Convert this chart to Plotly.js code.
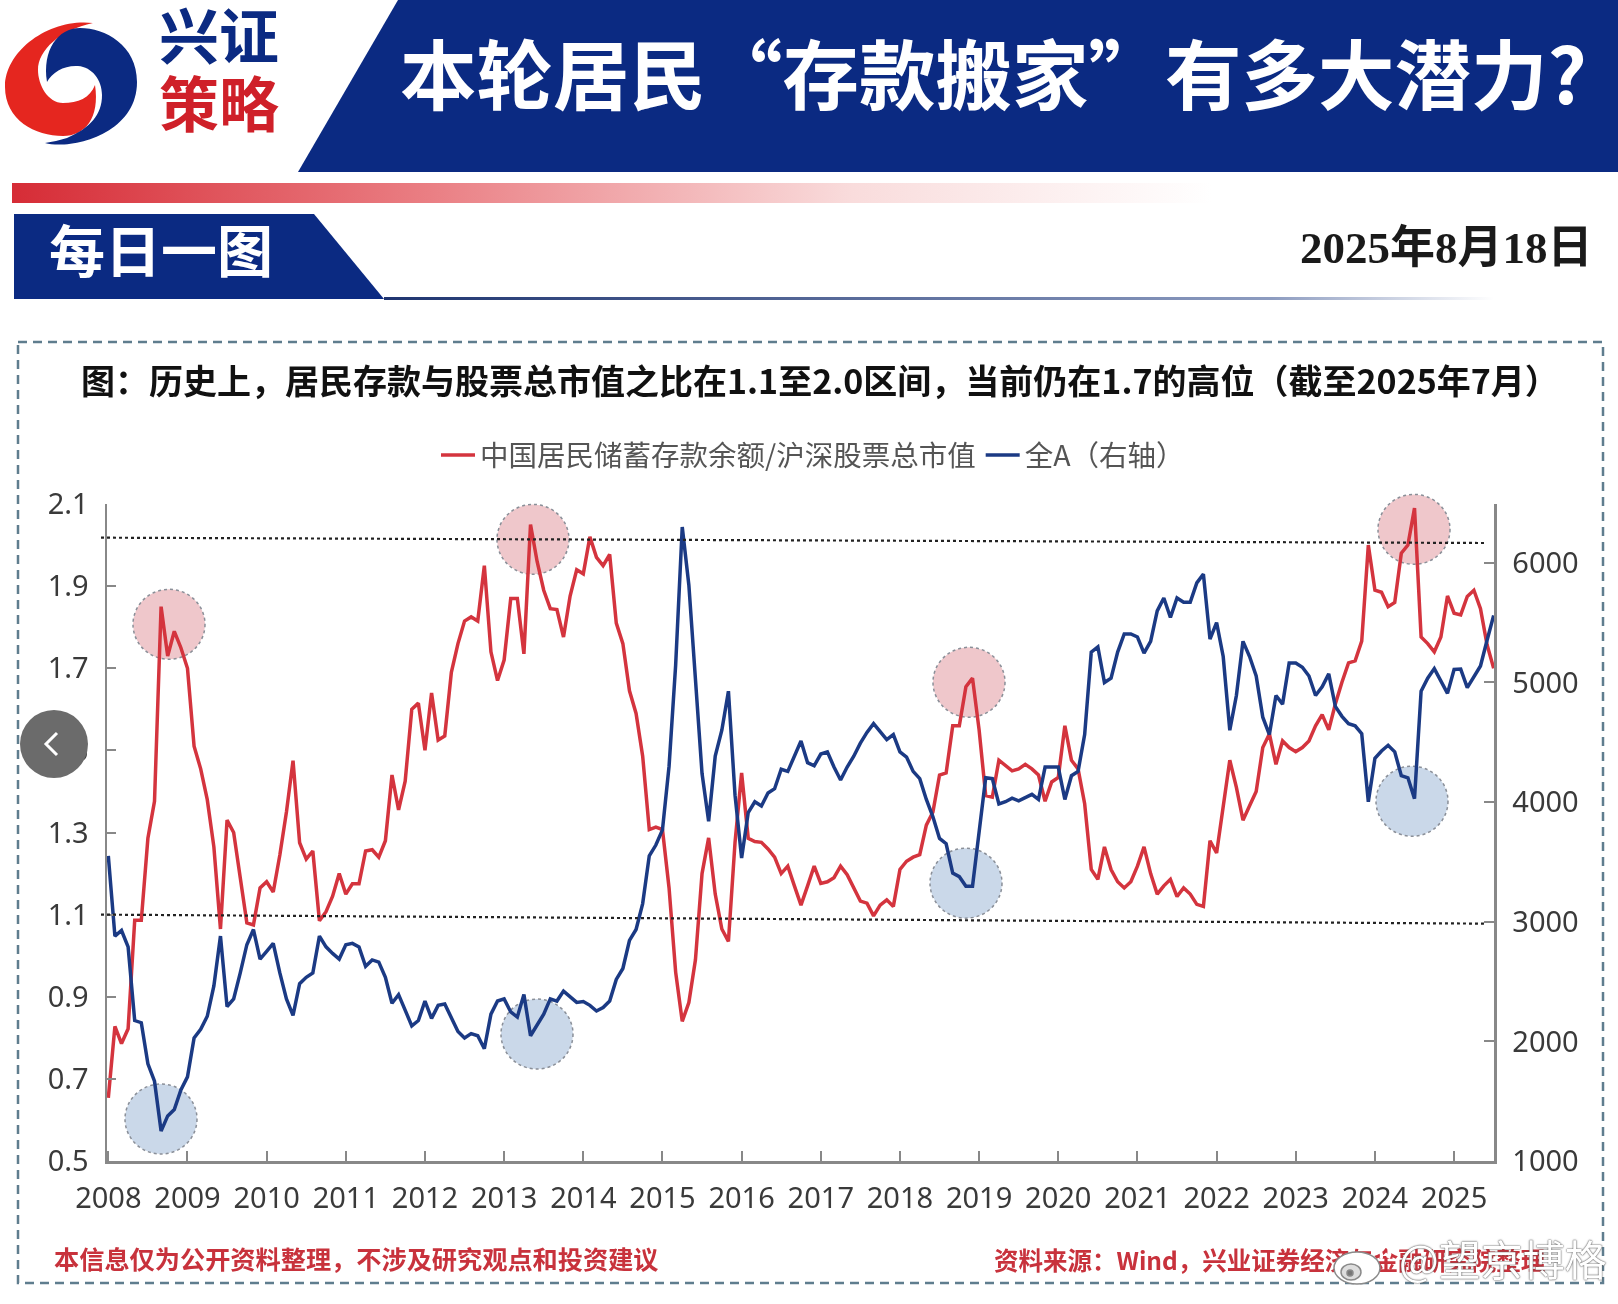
<!DOCTYPE html>
<html><head><meta charset="utf-8">
<script src="https://cdn.plot.ly/plotly-3.0.1.min.js"></script>
<style>
html,body{margin:0;padding:0;background:#fff;width:1618px;height:1304px;overflow:hidden}
#wrap{position:relative;width:1618px;height:1304px;filter:blur(0.7px)}
#under,#over{position:absolute;left:0;top:0}
#chart{position:absolute;left:0;top:0;width:1618px;height:1304px}
#over{pointer-events:none}
</style></head><body>
<div id="wrap">
<svg id="under" width="1618" height="1304">
  <defs>
    <linearGradient id="rg"><stop offset="0" stop-color="#d62c36"/><stop offset="0.35" stop-color="#ea7f84"/><stop offset="0.7" stop-color="#f9dcdc"/><stop offset="1" stop-color="#fff"/></linearGradient>
    <linearGradient id="bg"><stop offset="0" stop-color="#1f3570"/><stop offset="0.8" stop-color="#8d9cc0"/><stop offset="1" stop-color="#fff"/></linearGradient>
  </defs>
  <polygon points="398,0 1618,0 1618,172 298,172" fill="#0b2a82"/>
  <rect x="12" y="183" width="1200" height="20" fill="url(#rg)"/>
  <polygon points="14,214 314,214 384,299 14,299" fill="#0b2a82"/>
  <rect x="384" y="297" width="1110" height="3" fill="url(#bg)"/>
  <rect x="18" y="342" width="1585" height="941" fill="none" stroke="#5f7d8e" stroke-width="2.5" stroke-dasharray="9 6"/>
  <path d="M93 23 C50 18 5 50 5 87 C5 120 35 136 63 136 C85 136 100 118 95 85 C90 98 78 103 63 103 C48 103 38 85 38 70 C38 50 60 30 93 23Z" fill="#e5261f"/>
  <path d="M45 143 C70 150 137 135 137 82 C137 45 105 28 80 28 C58 28 42 50 47 82 C52 72 65 65 78 66 C92 67 102 80 102 95 C102 115 90 128 67 138 C60 140 52 142 45 143Z" fill="#0b2a82"/>
</svg>
<div id="chart"></div>
<svg id="over" width="1618" height="1304">
  <circle cx="54" cy="744" r="34" fill="#6b6b6b"/>
  <path d="M57 733 L46 744 L57 755" fill="none" stroke="#fff" stroke-width="3"/>
  <g stroke="#8a8a8a" stroke-width="1.5">
    <ellipse cx="1357" cy="1268" rx="23" ry="16" fill="#fff"/>
    <ellipse cx="1351" cy="1272" rx="10" ry="8" fill="#ddd"/>
    <circle cx="1350" cy="1273" r="3" fill="#777"/>
    <path d="M1372 1240 C1388 1238 1392 1250 1388 1258" fill="none" stroke="#fff" stroke-width="4"/>
    <path d="M1372 1249 C1380 1248 1383 1254 1381 1259" fill="none" stroke="#fff" stroke-width="3"/>
  </g>
</svg>
</div>
<script>
const SERIES_RED = '中国居民储蓄存款余额/沪深股票总市值';
const SERIES_BLUE = '全A（右轴）';
const YEARS = ['2008','2009','2010','2011','2012','2013','2014','2015','2016','2017','2018','2019','2020','2021','2022','2023','2024','2025'];
const ratio = [
 .654,.828,.786,.822,1.086,1.086,1.286,1.376,1.85,1.73,
 1.79,1.75,1.70,1.51,1.455,1.38,1.265,1.065,1.33,1.30,
 1.19,1.08,1.075,1.165,1.18,1.155,1.245,1.35,1.475,1.275,
 1.235,1.255,1.085,1.107,1.145,1.20,1.15,1.175,1.175,1.255,
 1.258,1.24,1.28,1.44,1.355,1.425,1.60,1.615,1.50,1.64,
 1.525,1.535,1.69,1.76,1.815,1.825,1.815,1.95,1.74,1.67,
 1.72,1.87,1.87,1.735,2.05,1.96,1.89,1.845,1.843,1.776,
 1.876,1.94,1.93,2.02,1.97,1.95,1.977,1.81,1.76,1.645,
 1.59,1.486,1.307,1.313,1.307,1.165,.96,.84,.886,.99,
 1.20,1.287,1.15,1.065,1.035,1.276,1.445,1.286,1.278,1.276,
 1.26,1.24,1.20,1.218,1.17,1.123,1.17,1.218,1.176,1.18,
 1.19,1.218,1.197,1.165,1.133,1.128,1.097,1.123,1.136,1.12,
 1.21,1.23,1.24,1.246,1.318,1.35,1.44,1.445,1.56,1.56,
 1.655,1.676,1.55,1.39,1.386,1.476,1.463,1.45,1.455,1.466,
 1.455,1.44,1.376,1.423,1.434,1.56,1.476,1.455,1.37,1.21,
 1.186,1.265,1.21,1.18,1.165,1.18,1.218,1.265,1.20,1.15,
 1.17,1.186,1.144,1.165,1.15,1.125,1.12,1.28,1.25,1.37,
 1.476,1.41,1.33,1.365,1.40,1.507,1.54,1.466,1.523,1.507,
 1.497,1.507,1.523,1.56,1.587,1.55,1.613,1.666,1.713,1.718,
 1.766,2.0,1.89,1.885,1.85,1.86,1.98,2.0,2.09,1.776,
 1.76,1.74,1.776,1.876,1.834,1.83,1.875,1.89,1.845,1.757,1.70
];
const allA = [
 3551,2880,2927,2790,2174,2156,1812,1667,1250,1377,
 1431,1594,1703,2029,2101,2210,2464,2880,2290,2355,
 2572,2808,2935,2688,2753,2819,2572,2355,2217,2482,
 2536,2572,2880,2790,2735,2688,2808,2819,2790,2627,
 2681,2663,2536,2319,2391,2264,2130,2174,2337,2192,
 2301,2312,2192,2083,2029,2065,2047,1938,2228,2337,
 2355,2246,2203,2391,2047,2138,2228,2355,2337,2420,
 2373,2326,2333,2301,2254,2283,2337,2518,2609,2844,
 2935,3152,3551,3641,3768,4300,5145,6300,5815,5036,
 4239,3840,4384,4601,4927,4058,3533,3913,4003,3967,
 4076,4112,4275,4257,4384,4511,4330,4304,4402,4420,
 4293,4185,4293,4384,4493,4583,4656,4583,4522,4565,
 4420,4377,4257,4196,4022,3877,3696,3652,3406,3377,
 3297,3297,3768,4203,4196,3985,4003,4033,4011,4040,
 4065,4022,4293,4293,4293,4022,4221,4257,4565,5254,
 5297,5000,5036,5254,5406,5406,5380,5246,5344,5598,
 5706,5543,5706,5670,5670,5833,5906,5362,5500,5217,
 4601,4891,5344,5217,5054,4710,4565,4891,4819,5163,
 5163,5127,5054,4891,4964,5072,4800,4717,4656,4638,
 4572,4003,4366,4427,4475,4420,4221,4203,4029,4927,
 5036,5116,5018,4909,5109,5112,4957,5052,5138,5353,5560
];
const LEFT_TICKS = [0.5,0.7,0.9,1.1,1.3,1.5,1.7,1.9,2.1];
const RIGHT_TICKS = [1000,2000,3000,4000,5000,6000];
const BANDS = [[2.018,2.005],[1.1,1.078]];

const months = ratio.map((_, i) => (2008 + Math.floor(i / 12)) + '-' + String(i % 12 + 1).padStart(2, '0'));
const yearTicks = YEARS.map(y => y + '-01');

const W = 1618, H = 1304, L = 107, R = 1494, T = 503.6, B = 1161;
const px = x => (x - L) / (R - L), py = y => 1 - (y - T) / (B - T);
const FONT = '"Noto Sans CJK SC","Noto Sans",sans-serif';
const BRAND_FONT = '"Liberation Sans","Noto Sans CJK SC",sans-serif';

function note(text, x, y, size, color, weight, family, shadow) {
  const font = {family: family || FONT, size, color, weight: weight || 400};
  if (shadow) font.shadow = shadow;
  return {text, x: px(x), y: py(y), xref: 'paper', yref: 'paper', showarrow: false, xanchor: 'left', yanchor: 'middle', font};
}
function bubble(cx, cy, rx, ry, fill) {
  return {type: 'circle', xref: 'paper', yref: 'paper', layer: 'below',
    x0: px(cx - rx), x1: px(cx + rx), y0: py(cy + ry), y1: py(cy - ry),
    fillcolor: fill, line: {color: '#8a8f98', width: 1.5, dash: 'dot'}};
}
const PINK = 'rgba(220,130,140,0.45)', ICE = 'rgba(150,178,212,0.5)';
const bubbles = [
  bubble(169, 624, 36, 35, PINK), bubble(533, 539, 36, 35, PINK),
  bubble(969, 682, 36, 35, PINK), bubble(1414, 529, 36, 35, PINK),
  bubble(161, 1119, 36, 35, ICE), bubble(537, 1034, 36, 35, ICE),
  bubble(966, 883, 36, 35, ICE), bubble(1412, 801, 36, 35, ICE)
];
const bandLines = BANDS.map(b => ({type: 'line', xref: 'paper', yref: 'y', x0: px(101), x1: px(1487), y0: b[0], y1: b[1],
  line: {color: '#222', width: 2.2, dash: 'dot'}}));

const traces = [
  {x: months, y: ratio, name: SERIES_RED, type: 'scatter', mode: 'lines', yaxis: 'y', line: {color: '#d4343e', width: 3.5}},
  {x: months, y: allA, name: SERIES_BLUE, type: 'scatter', mode: 'lines', yaxis: 'y2', line: {color: '#1b3a84', width: 3.5}}
];
const tickFont = {family: '"Noto Sans",sans-serif', size: 29, color: '#3a3a3a'};
const layout = {
  width: W, height: H, margin: {l: L, r: W - R, t: T, b: H - B, pad: 0},
  paper_bgcolor: 'rgba(0,0,0,0)', plot_bgcolor: 'rgba(0,0,0,0)',
  showlegend: true,
  legend: {orientation: 'h', x: px(436), y: py(455), xanchor: 'left', yanchor: 'middle', itemwidth: 34, tracegroupgap: 0,
    font: {family: FONT, size: 28.5, color: '#555'}, bgcolor: 'rgba(0,0,0,0)'},
  xaxis: {type: 'category', categoryorder: 'array', categoryarray: months, range: [-0.2, 210.05],
    tickvals: yearTicks, ticktext: YEARS, ticks: 'inside', ticklen: 10, tickcolor: '#888', tickwidth: 2, ticklabelstandoff: 10,
    showgrid: false, zeroline: false, showline: true, linecolor: '#888', linewidth: 2.5, tickfont: tickFont, tickangle: 0},
  yaxis: {range: [0.5, 2.1], tickvals: LEFT_TICKS, ticktext: LEFT_TICKS.map(v => v.toFixed(1)), ticks: 'inside', ticklen: 9, ticklabelstandoff: 10,
    tickcolor: '#888', tickwidth: 2, showgrid: false, zeroline: false, showline: true, linecolor: '#888', linewidth: 2.5, tickfont: tickFont},
  yaxis2: {overlaying: 'y', side: 'right', range: [1000, 6492], tickvals: RIGHT_TICKS, ticks: 'inside', ticklen: 10, ticklabelstandoff: 10,
    tickcolor: '#888', tickwidth: 2, showgrid: false, zeroline: false, showline: true, linecolor: '#888', linewidth: 2.5, tickfont: tickFont, tickformat: 'd'},
  shapes: bubbles.concat(bandLines),
  annotations: [
    note('兴证', 157, 38, 60, '#0b2a82', 700, BRAND_FONT),
    note('策略', 157, 106, 60, '#cf2029', 700, BRAND_FONT),
    note('本轮居民“存款搬家”有多大潜力?', 398, 70, 76.5, '#fff', 700),
    note('每日一图', 47, 247, 56, '#fff', 700),
    note('2025年8月18日', 1298, 247, 45, '#1a1a1a', 700, '"Liberation Serif","Noto Sans CJK SC",serif'),
    note('图：历史上，居民存款与股票总市值之比在1.1至2.0区间，当前仍在1.7的高位（截至2025年7月）', 79, 379, 34, '#111', 700),
    note('本信息仅为公开资料整理，不涉及研究观点和投资建议', 52, 1258, 25.2, '#c8323c', 700),
    note('资料来源：Wind，兴业证券经济与金融研究院整理', 992, 1260, 24.5, '#c8323c', 700),
    note('@望京博格', 1397, 1258, 42, '#fff', 400, FONT, '0 0 2px #555, 0 0 1px #555')
  ]
};
Plotly.newPlot('chart', traces, layout, {displayModeBar: false, staticPlot: true});
</script>
</body></html>
